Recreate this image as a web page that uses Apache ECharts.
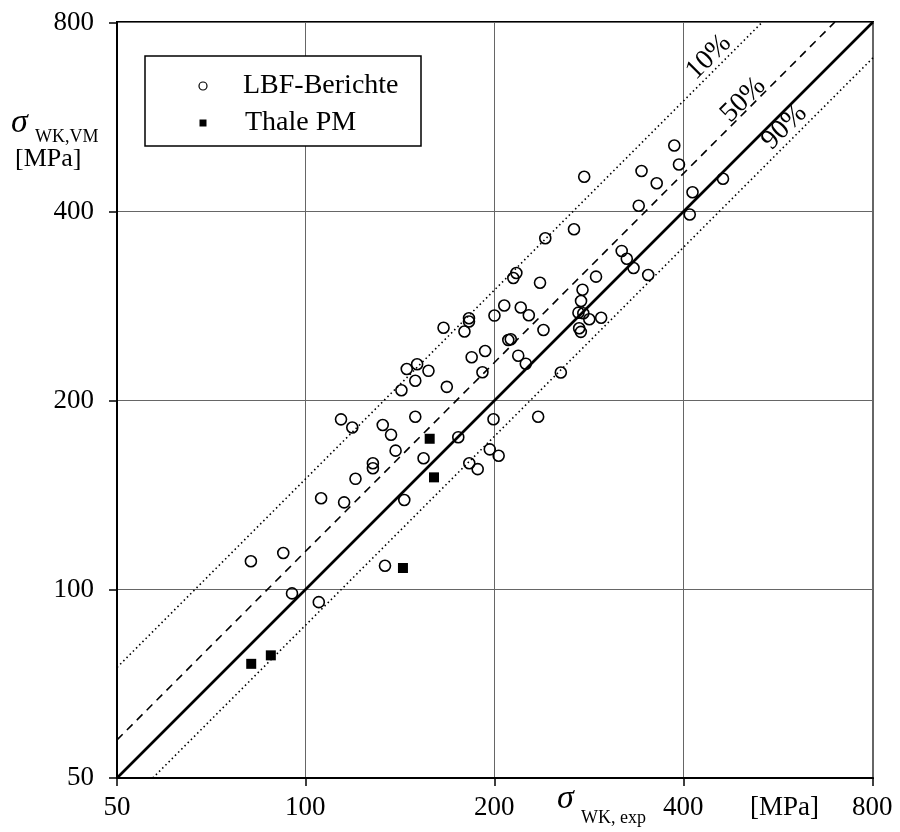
<!DOCTYPE html>
<html><head><meta charset="utf-8">
<script src="https://cdn.jsdelivr.net/npm/echarts@6/dist/echarts.min.js"></script>
<style>html,body{margin:0;padding:0;background:#fff}#c{width:900px;height:832px}</style>
</head><body><div id="c"></div>
<script>
// Axis ticks (MPa)
const tickValues = [50, 100, 200, 400, 800];
// LBF-Berichte: experimental (x) vs calculated (y) [MPa]
const lbfX = [81.7,92.0,95.0,104.8,105.7,115.0,113.7,118.5,119.9,127.8,127.8,132.5,136.6,138.9,133.6,143.4,149.3,153.9,174.8,182.0,187.7,196.2,202.7,198.9,234.3,141.9,144.7,150.3,149.3,156.7,167.6,165.6,178.8,181.8,181.8,183.6,191.0,192.9,199.6,206.9,210.0,211.9,217.8,223.9,219.8,226.4,238.9,235.9,216.3,213.9,240.5,254.6,267.2,277.4,275.7,274.2,271.6,276.5,282.6,295.2,272.3,274.0,289.7,318.3,324.3,332.4,350.8,338.8,342.3,361.9,386.0,392.7,412.7,408.5,461.5];
const lbfY = [110.7,114.1,98.4,95.3,139.5,137.4,186.3,180.8,149.8,158.6,155.7,182.5,176.1,166.1,108.9,138.6,188.1,161.5,174.5,158.6,155.2,166.9,163.0,186.4,188.1,207.3,224.1,228.0,214.6,222.6,209.9,260.7,257.1,269.9,266.7,234.0,221.4,239.4,272.6,282.8,249.2,249.9,235.3,228.5,280.8,272.9,258.5,307.5,318.7,312.9,361.9,221.2,374.1,453.6,299.7,287.6,275.5,274.9,268.9,270.4,260.2,256.8,314.4,345.5,335.7,324.6,316.3,407.7,463.2,442.8,508.6,474.4,428.4,394.9,450.3];
// Thale PM
const thaleX = [157.4,159.9,142.7,81.8,87.9];
const thaleY = [173.5,150.6,108.0,76.0,78.4];
// Scatter band lines (endpoints, MPa)
const line10 = [[50,75],[533.3,800]];
const line50 = [[50,57.5],[695.7,800]];
const lineEq = [[50,50],[800,800]];
const line90 = [[57,50],[800,701.6]];
// Band labels
const pctText = ['10%','50%','90%'];
const pctAt = [[438,703],[497,601],[578,544]];

const serif = '"Liberation Serif","Times New Roman",serif';
const zip = (a,b) => a.map((v,i)=>[v,b[i]]);
const nearestTick = v => tickValues.reduce((best,t)=>Math.abs(Math.log(t/v))<Math.abs(Math.log(best/v))?t:best, tickValues[0]);

const chart = echarts.init(document.getElementById('c'), null, {renderer:'canvas'});
const axisCommon = {
  type:'log', logBase:2, min:50, max:800, interval:1,
  axisLine:{show:true, lineStyle:{color:'#000', width:2}},
  axisTick:{show:true, inside:false, length:8, lineStyle:{color:'#000', width:1.5}},
  splitLine:{show:true, lineStyle:{color:'#666', width:1}},
  minorTick:{show:false}, minorSplitLine:{show:false}
};
chart.setOption({
  animation:false,
  backgroundColor:'#fff',
  grid:{left:117, right:27, top:22, bottom:54, show:true, borderColor:'#000', borderWidth:2, backgroundColor:'transparent'},
  xAxis:Object.assign({}, axisCommon, {
    axisLabel:{margin:16, fontSize:27, fontFamily:serif, color:'#000', formatter:v=>String(nearestTick(v))}
  }),
  yAxis:Object.assign({}, axisCommon, {
    axisLabel:{margin:23, fontSize:27, fontFamily:serif, color:'#000', formatter:v=>String(nearestTick(v))}
  }),
  series:[
    {type:'line', data:line10, symbol:'none', silent:true, lineStyle:{color:'#000', width:1.6, type:[1.5,3]}, z:2},
    {type:'line', data:line50, symbol:'none', silent:true, lineStyle:{color:'#000', width:1.6, type:[8,6]}, z:2},
    {type:'line', data:lineEq, symbol:'none', silent:true, lineStyle:{color:'#000', width:2.6, type:'solid'}, z:2},
    {type:'line', data:line90, symbol:'none', silent:true, lineStyle:{color:'#000', width:1.6, type:[1.5,3]}, z:2},
    {name:'LBF-Berichte', type:'scatter', data:zip(lbfX,lbfY), symbol:'circle', symbolSize:11,
      itemStyle:{color:'rgba(255,255,255,0)', borderColor:'#000', borderWidth:1.6, opacity:1}, z:3},
    {name:'Thale PM', type:'scatter', data:zip(thaleX,thaleY), symbol:'rect', symbolSize:10,
      itemStyle:{color:'#000', opacity:1}, z:3},
    {type:'scatter', silent:true, symbolSize:1, itemStyle:{color:'rgba(0,0,0,0)'}, z:4,
      data:pctAt.map((p,i)=>({value:p, name:pctText[i]})),
      label:{show:true, position:'inside', formatter:'{b}', rotate:45, fontSize:28, fontFamily:serif,
        color:'#000', textBorderWidth:0, opacity:1}}
  ],
  graphic:[
    {type:'rect', shape:{x:145, y:56, width:276, height:90}, style:{fill:'#fff', stroke:'#000', lineWidth:1.5}, z:10},
    {type:'circle', shape:{cx:203, cy:86, r:4}, style:{fill:'#fff', stroke:'#000', lineWidth:1.2}, z:11},
    {type:'rect', shape:{x:199.5, y:119.5, width:7, height:7}, style:{fill:'#000'}, z:11},
    {type:'text', x:243, y:86, style:{text:'LBF-Berichte', font:'28px '+serif, fill:'#000', verticalAlign:'middle'}, z:11},
    {type:'text', x:245, y:123, style:{text:'Thale PM', font:'28px '+serif, fill:'#000', verticalAlign:'middle'}, z:11},
    // y-axis title
    {type:'text', x:11, y:140, style:{text:'σ', font:'italic 34px '+serif, fill:'#000', verticalAlign:'bottom'}},
    {type:'text', x:35, y:146, style:{text:'WK,VM', font:'18px '+serif, fill:'#000', verticalAlign:'bottom'}},
    {type:'text', x:15, y:159, style:{text:'[MPa]', font:'26px '+serif, fill:'#000', verticalAlign:'middle'}},
    // x-axis title
    {type:'text', x:557, y:816, style:{text:'σ', font:'italic 34px '+serif, fill:'#000', verticalAlign:'bottom'}},
    {type:'text', x:581, y:827, style:{text:'WK, exp', font:'18px '+serif, fill:'#000', verticalAlign:'bottom'}},
    {type:'text', x:750, y:808, style:{text:'[MPa]', font:'27px '+serif, fill:'#000', verticalAlign:'middle'}}
  ]
});
</script></body></html>
